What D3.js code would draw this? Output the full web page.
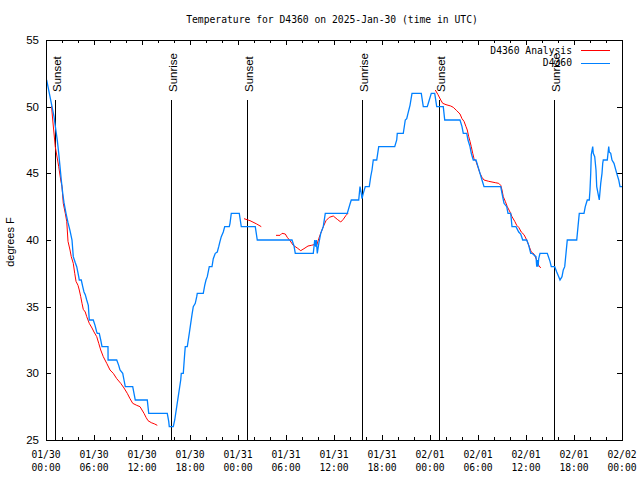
<!DOCTYPE html>
<html><head><meta charset="utf-8">
<script src="https://cdn.jsdelivr.net/npm/d3@7"></script>
<style>body{margin:0;background:#fff}svg{display:block}</style>
</head><body><svg id="c" width="640" height="480"></svg>
<script>
const titleText = "Temperature for D4360 on 2025-Jan-30 (time in UTC)";
const yLabel = "degrees F";
const startUTC = Date.UTC(2025, 0, 30, 0, 0);
const yTicks = [25, 30, 35, 40, 45, 50, 55];
const seriesNames = ["D4360 Analysis", "D4360"];
const seriesColors = ["#ff0000", "#0080ff"];

const obsHours = [0.08,0.25,0.5,0.75,1.0,1.17,1.41,1.59,1.75,1.91,2.09,2.25,2.5,2.75,3.0,3.25,3.41,3.66,3.84,4.09,4.16,4.41,4.59,4.75,4.91,5.09,5.29,5.41,5.91,6.13,6.34,6.41,6.66,6.84,7.0,7.75,7.76,8.84,9.09,9.25,9.59,9.75,9.91,10.84,11.0,11.16,12.66,12.84,15.16,15.34,15.41,15.91,16.09,16.34,16.59,16.84,16.91,17.16,17.34,17.41,17.66,17.91,18.09,18.25,18.41,18.66,18.84,18.91,19.66,19.84,20.0,20.16,20.41,20.75,20.91,21.16,21.41,21.59,21.75,21.91,22.16,22.34,22.91,23.0,23.16,24.16,24.41,26.16,26.41,30.75,31.0,31.16,33.41,33.59,33.71,33.79,33.91,34.09,34.34,34.66,34.91,37.66,38.0,38.16,39.09,39.25,39.41,39.5,39.66,39.91,40.41,40.59,40.75,40.91,41.34,41.59,43.59,43.84,43.91,44.66,44.91,45.09,45.25,45.5,45.75,46.91,47.16,47.66,47.91,48.16,48.59,48.84,49.66,49.84,51.75,52.0,52.16,52.59,52.75,53.0,53.16,53.41,53.75,54.0,54.25,54.5,54.75,56.84,57.0,57.25,57.59,57.75,58.09,58.25,58.75,59.09,59.34,59.59,60.09,60.34,60.59,60.75,61.25,61.34,61.41,61.5,61.59,61.75,62.66,63.0,63.16,63.59,63.84,64.09,64.25,64.5,64.66,64.84,65.0,65.16,66.34,66.5,66.66,67.25,67.41,67.66,67.91,68.0,68.09,68.16,68.34,68.41,68.59,68.75,68.84,69.0,69.16,69.34,69.5,69.59,69.66,70.16,70.25,70.34,70.41,70.59,70.75,71.0,71.34,71.59,71.75,72.0];
const obsTemps = [52,51.5,50.75,50,49.25,48.5,47.5,46.5,45.5,44.5,43.5,42.8,42,41.3,40.7,40,38.75,38.3,38,37.25,37,37,36.5,36.1,35.9,35.5,35.1,34,34,33.6,33.1,33,33,32.5,32,32,31,31,30.6,30.25,30,29.5,29,29,28.5,28,28,27,27,26.4,26,26,26.5,27.5,28.5,29.5,30,30,31.5,32,32,33,33.75,34.4,35,35.25,35.75,36,36,36.6,37,37.25,38,38,38.6,39,39.1,39.5,39.9,40.25,40.6,41,41,41.25,42,42,41,41,40,40,39.55,39,39,40,39.5,40,39,39.7,40.5,41,42,42,42.7,43,43,44,43.5,43.1,43.5,44,44,44.75,45.25,46,46,47,47,47.5,48,48,49,49.1,49.5,50.1,51,51,50,50,50.5,51,51,50,50,49,49,48.5,48,48,47.5,47,46.5,46,46,45.5,45,44.5,44,44,43.5,42.75,42.5,42,42,41,41,40.6,40.45,40,40,39.6,39,39,38.75,38,38.5,38,38.6,39,39,38.4,38,38,37.6,37.25,37,37.25,37.75,38,39,40,40,41,42,42,42.5,43,43,43.75,45,46.4,47,46.5,46.25,45.25,44,43.5,43,44.25,45,45.75,46,46,46.5,47,46.6,46.5,46,45.75,45,44.5,44,44];

// analysis: null marks a gap between segments
const anaHours = [0.69,0.84,1.16,1.59,1.84,2.0,2.16,2.41,2.59,2.75,3.0,3.16,3.41,3.59,3.75,4.0,4.16,4.34,4.5,4.66,4.91,5.09,5.41,5.75,6.0,6.34,6.59,6.84,7.16,7.59,8.0,8.41,8.84,9.34,9.75,10.16,10.5,10.84,11.34,11.75,12.0,12.25,12.5,12.75,13.16,13.59,13.91,
  20,
  24.75,25.5,26.34,26.91,
  28,
  28.75,29.25,29.5,29.91,30.16,30.5,30.91,31.41,31.84,32.25,32.75,33.16,33.5,33.84,34.09,34.34,34.66,35.0,35.41,35.91,36.41,36.84,37.16,37.5,37.75,
  45,
  48.66,49.0,49.34,49.59,50.0,50.59,50.91,51.34,51.75,52.0,52.25,52.5,52.66,52.84,53.0,53.16,53.34,53.5,53.75,54.0,54.25,54.5,54.75,55.34,56.16,56.59,56.84,57.0,57.16,57.41,57.66,58.0,58.25,58.59,58.84,59.09,59.41,59.75,60.09,60.41,60.66,61.0,61.34,61.59,61.84];
const anaTemps = [50.05,49,47,45.5,44.5,44,42.75,42,41.4,39.9,39.25,38.75,38.25,37.5,36.9,36.6,36.25,35.75,35.25,34.8,34.6,34.25,33.75,33.4,33.1,32.75,32.25,31.75,31.25,30.75,30.25,30,29.6,29.25,28.9,28.5,28.1,27.75,27.6,27.5,27.25,27,26.7,26.45,26.3,26.2,26.1,
  null,
  41.6,41.45,41.2,41.0,
  null,
  40.35,40.35,40.5,40.45,40.2,39.95,39.6,39.4,39.2,39.35,39.55,39.6,39.65,39.6,40.1,40.5,41.0,41.45,41.7,41.8,41.55,41.35,41.55,41.85,42,
  null,
  51.25,50.9,50.5,50.25,50.15,50.05,49.95,49.7,49.45,49.1,48.9,48.5,48.25,47.75,47.4,47.0,46.5,46.1,45.9,45.45,45.0,44.7,44.5,44.4,44.3,44.25,44.1,43.75,43.25,42.9,42.5,42.1,41.75,41.4,41.1,40.95,40.6,40.4,40,39.5,39.1,38.95,38.5,38.1,37.9];

const sunLabels = ["Sunset","Sunrise","Sunset","Sunrise","Sunset","Sunrise"];
const sunHours = [1.16,15.67,25.16,39.54,49.17,63.56];

const svg = d3.select("#c");
const M = {l:46, r:622, t:40, b:440};
const toDate = h => new Date(startUTC + h*3600e3);
const x = d3.scaleUtc().domain([toDate(0), toDate(72)]).range([M.l, M.r]);
const y = d3.scaleLinear().domain([25,55]).range([M.b, M.t]);
const mono = "'DejaVu Sans Mono', monospace";
const sans = "'Liberation Sans', Arial, sans-serif";

svg.append("defs").append("clipPath").attr("id","clip").append("rect")
  .attr("x",M.l).attr("y",M.t).attr("width",M.r-M.l).attr("height",M.b-M.t);

// title
svg.append("text").attr("x",332).attr("y",23).attr("text-anchor","middle")
  .attr("font-family",mono).attr("font-size",9.7).text(titleText);

// y label
svg.append("text").attr("transform","translate(14,242) rotate(-90)").attr("text-anchor","middle")
  .attr("font-family",sans).attr("font-size",11).text(yLabel);

// axes ticks
const g = svg.append("g").attr("stroke","#000").attr("stroke-width",1).attr("shape-rendering","crispEdges");
const minorTicks = x.ticks(d3.utcHour.every(2));
const majorTicks = x.ticks(d3.utcHour.every(6));
minorTicks.forEach(d => {
  const major = d.getUTCHours() % 6 === 0;
  const len = major ? 5 : 3;
  const xp = Math.round(x(d)) + 0.5;
  g.append("line").attr("x1",xp).attr("x2",xp).attr("y1",M.b).attr("y2",M.b-len);
  g.append("line").attr("x1",xp).attr("x2",xp).attr("y1",M.t).attr("y2",M.t+len);
});
yTicks.forEach(v => {
  const yp = Math.round(y(v)) + 0.5;
  g.append("line").attr("x1",M.l).attr("x2",M.l+5).attr("y1",yp).attr("y2",yp);
  g.append("line").attr("x1",M.r).attr("x2",M.r-5).attr("y1",yp).attr("y2",yp);
  svg.append("text").attr("x",39).attr("y",y(v)+4).attr("text-anchor","end")
    .attr("font-family",sans).attr("font-size",11.5).text(v);
});
const fmtD = d3.utcFormat("%m/%d"), fmtT = d3.utcFormat("%H:%M");
majorTicks.forEach(d => {
  const t = svg.append("text").attr("text-anchor","middle").attr("font-family",mono).attr("font-size",9.7);
  t.append("tspan").attr("x",x(d)).attr("y",458).text(fmtD(d));
  t.append("tspan").attr("x",x(d)).attr("y",471).text(fmtT(d));
});

// sun lines
sunHours.forEach((h,i) => {
  const xp = Math.round(x(toDate(h))) + 0.5;
  g.append("line").attr("x1",xp).attr("x2",xp).attr("y1",100).attr("y2",M.b);
  svg.append("text").attr("transform",`translate(${xp+5},92) rotate(-90)`)
    .attr("font-family",sans).attr("font-size",11.5).text(sunLabels[i]);
});

// data lines
const obs = obsHours.map((h,i)=>({t:toDate(h), v:obsTemps[i]}));
const ana = anaHours.map((h,i)=>({t:toDate(h), v:anaTemps[i]}));
const line = d3.line().defined(d=>d.v!==null).x(d=>x(d.t)).y(d=>y(d.v));
svg.append("path").datum(ana).attr("clip-path","url(#clip)").attr("d",line)
  .attr("fill","none").attr("stroke",seriesColors[0]).attr("stroke-width",1);
svg.append("path").datum(obs).attr("clip-path","url(#clip)").attr("d",line)
  .attr("fill","none").attr("stroke",seriesColors[1]).attr("stroke-width",1.3);

// frame
svg.append("rect").attr("x",M.l+0.5).attr("y",M.t+0.5).attr("width",M.r-M.l).attr("height",M.b-M.t)
  .attr("fill","none").attr("stroke","#000").attr("shape-rendering","crispEdges");

// legend
seriesNames.forEach((n,i) => {
  const yy = 50 + i*12.5;
  svg.append("text").attr("x",572).attr("y",yy+3.5).attr("text-anchor","end")
    .attr("font-family",mono).attr("font-size",9.7).text(n);
  svg.append("line").attr("x1",581).attr("x2",610).attr("y1",Math.round(yy)+0.5).attr("y2",Math.round(yy)+0.5)
    .attr("stroke",seriesColors[i]).attr("stroke-width",1).attr("shape-rendering","crispEdges");
});
</script></body></html>
